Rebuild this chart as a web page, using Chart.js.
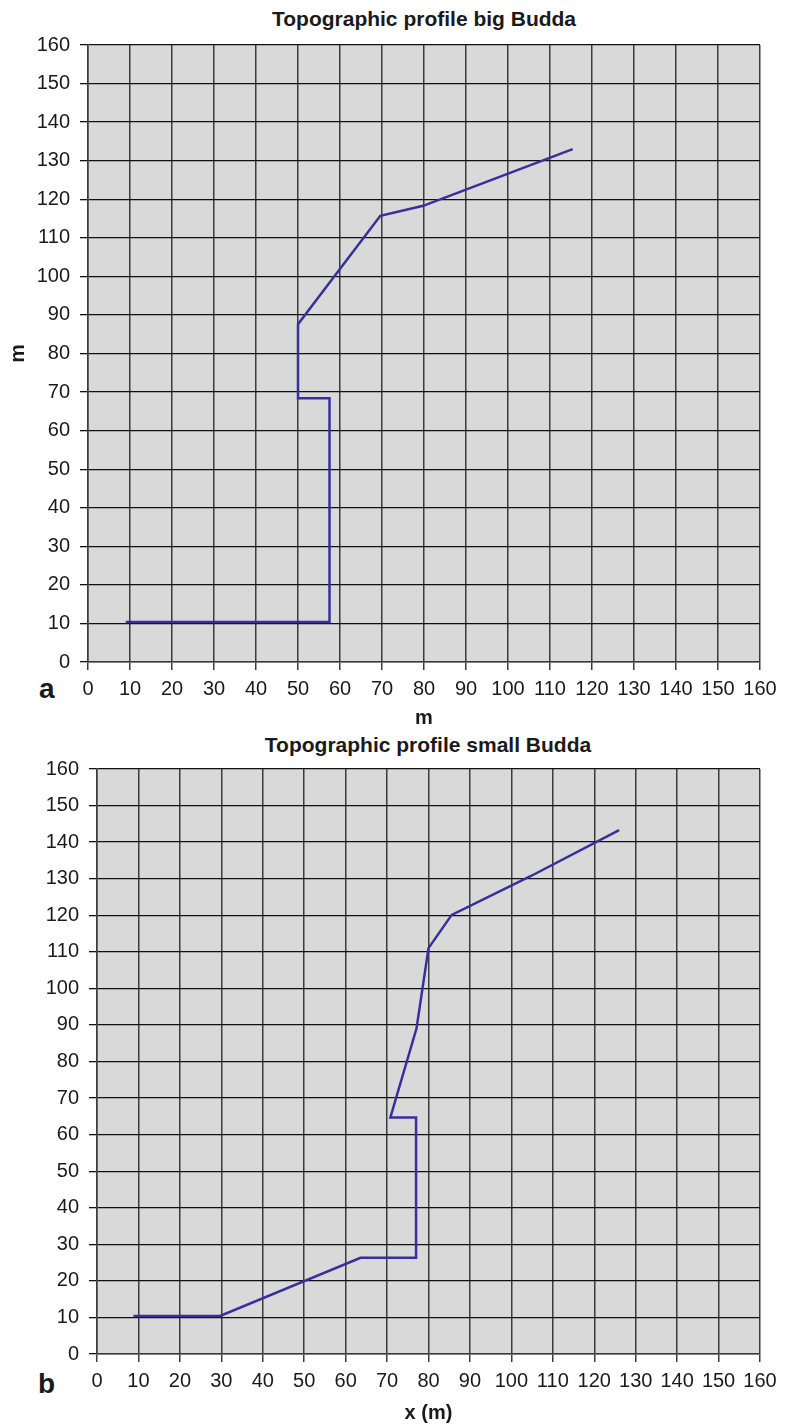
<!DOCTYPE html>
<html>
<head>
<meta charset="utf-8">
<script src="https://cdn.jsdelivr.net/npm/chart.js@4.4.1/dist/chart.umd.min.js"></script>
<style>
  html, body { margin: 0; padding: 0; background: #fff; }
  body { width: 790px; height: 1427px; position: relative; overflow: hidden;
         font-family: "Liberation Sans", Arial, Helvetica, sans-serif; color: #1a1a1a; }
  canvas { position: absolute; left: 0; }
  .ttl { position: absolute; font-weight: bold; font-size: 21px; line-height: 25px;
         text-align: center; white-space: nowrap; }
  .pl { position: absolute; font-weight: bold; font-size: 28px; line-height: 32px; }
</style>
</head>
<body>
<div class="ttl" style="left:0; width:848px; top:6px;">Topographic profile big Budda</div>
<div class="pl" style="left:39px; top:673px;">a</div>
<canvas id="c1" width="790" height="732" style="top:0;"></canvas>
<div class="ttl" style="left:0; width:856px; top:732px;">Topographic profile small Budda</div>
<div class="pl" style="left:38px; top:1368px;">b</div>
<canvas id="c2" width="790" height="695" style="top:732px;"></canvas>
<script>
// ---- data ----
const bigX   = [9, 57.5, 57.5, 50, 50, 69.6, 79.8, 115.4];
const bigY   = [10.4, 10.4, 68.4, 68.4, 87.6, 115.7, 118.3, 133];
const smallX = [8.8, 29.7, 63.6, 77, 77, 70.8, 77.1, 80, 85.6, 104.5, 126];
const smallY = [10.4, 10.4, 26.3, 26.3, 64.7, 64.7, 89, 111, 120.1, 130.6, 143.3];
const xTicks = [0, 10, 20, 30, 40, 50, 60, 70, 80, 90, 100, 110, 120, 130, 140, 150, 160];
const yTicks = [0, 10, 20, 30, 40, 50, 60, 70, 80, 90, 100, 110, 120, 130, 140, 150, 160];
const titleBig = 'Topographic profile big Budda';
const titleSmall = 'Topographic profile small Budda';

const FONT = '"Liberation Sans", Arial, Helvetica, sans-serif';
const LINE_COLOR = '#3b2d9c';

const bgPlugin = {
  id: 'plotBg',
  beforeDraw(chart) {
    const a = chart.chartArea, ctx = chart.ctx;
    ctx.save();
    ctx.fillStyle = '#d9d9d9';
    ctx.fillRect(a.left, a.top, a.right - a.left, a.bottom - a.top);
    ctx.restore();
  }
};

function toPoints(xs, ys) { return xs.map((x, i) => ({ x: x, y: ys[i] })); }

function makeChart(id, xs, ys, cfg) {
  return new Chart(document.getElementById(id), {
    type: 'scatter',
    data: {
      datasets: [{
        data: toPoints(xs, ys),
        showLine: true,
        borderColor: LINE_COLOR,
        backgroundColor: LINE_COLOR,
        borderWidth: 2.5,
        pointRadius: 0,
        pointHoverRadius: 0,
        tension: 0,
        fill: false
      }]
    },
    options: {
      responsive: false,
      maintainAspectRatio: false,
      animation: false,
      devicePixelRatio: 1,
      layout: { padding: { top: cfg.padTop, right: 30, bottom: 0, left: 0 } },
      plugins: { legend: { display: false }, tooltip: { enabled: false }, title: { display: false } },
      scales: {
        x: {
          type: 'linear', min: 0, max: 160,
          afterBuildTicks(s) { s.ticks = xTicks.map(v => ({ value: v })); },
          afterFit(s) { s.height = cfg.xHeight; },
          grid: { color: '#3c3c3c', lineWidth: 1.5, tickLength: 8, drawTicks: true },
          border: { color: '#3c3c3c', width: 1.5 },
          ticks: { color: '#1a1a1a', font: { family: FONT, size: 20 }, padding: 7, maxRotation: 0, autoSkip: false },
          title: { display: true, text: cfg.xTitle, color: '#1a1a1a',
                   font: { family: FONT, size: 20, weight: 'bold' }, padding: { top: 0, bottom: 2 } }
        },
        y: {
          type: 'linear', min: 0, max: 160,
          afterBuildTicks(s) { s.ticks = yTicks.map(v => ({ value: v })); },
          afterFit(s) { s.width = cfg.yWidth; },
          grid: { color: '#111111', lineWidth: 1.3, tickLength: 8, drawTicks: true },
          border: { color: '#3c3c3c', width: 1.5 },
          ticks: { color: '#1a1a1a', font: { family: FONT, size: 20 }, padding: 10, autoSkip: false },
          title: { display: !!cfg.yTitle, text: cfg.yTitle || '', color: '#1a1a1a',
                   font: { family: FONT, size: 21, weight: 'bold' }, padding: { top: 6, bottom: 0 } }
        }
      }
    },
    plugins: [bgPlugin]
  });
}

makeChart('c1', bigX, bigY, { padTop: 45, xHeight: 70, yWidth: 88, xTitle: 'm', yTitle: 'm' });
makeChart('c2', smallX, smallY, { padTop: 37, xHeight: 73, yWidth: 97, xTitle: 'x (m)', yTitle: null });
</script>
</body>
</html>
